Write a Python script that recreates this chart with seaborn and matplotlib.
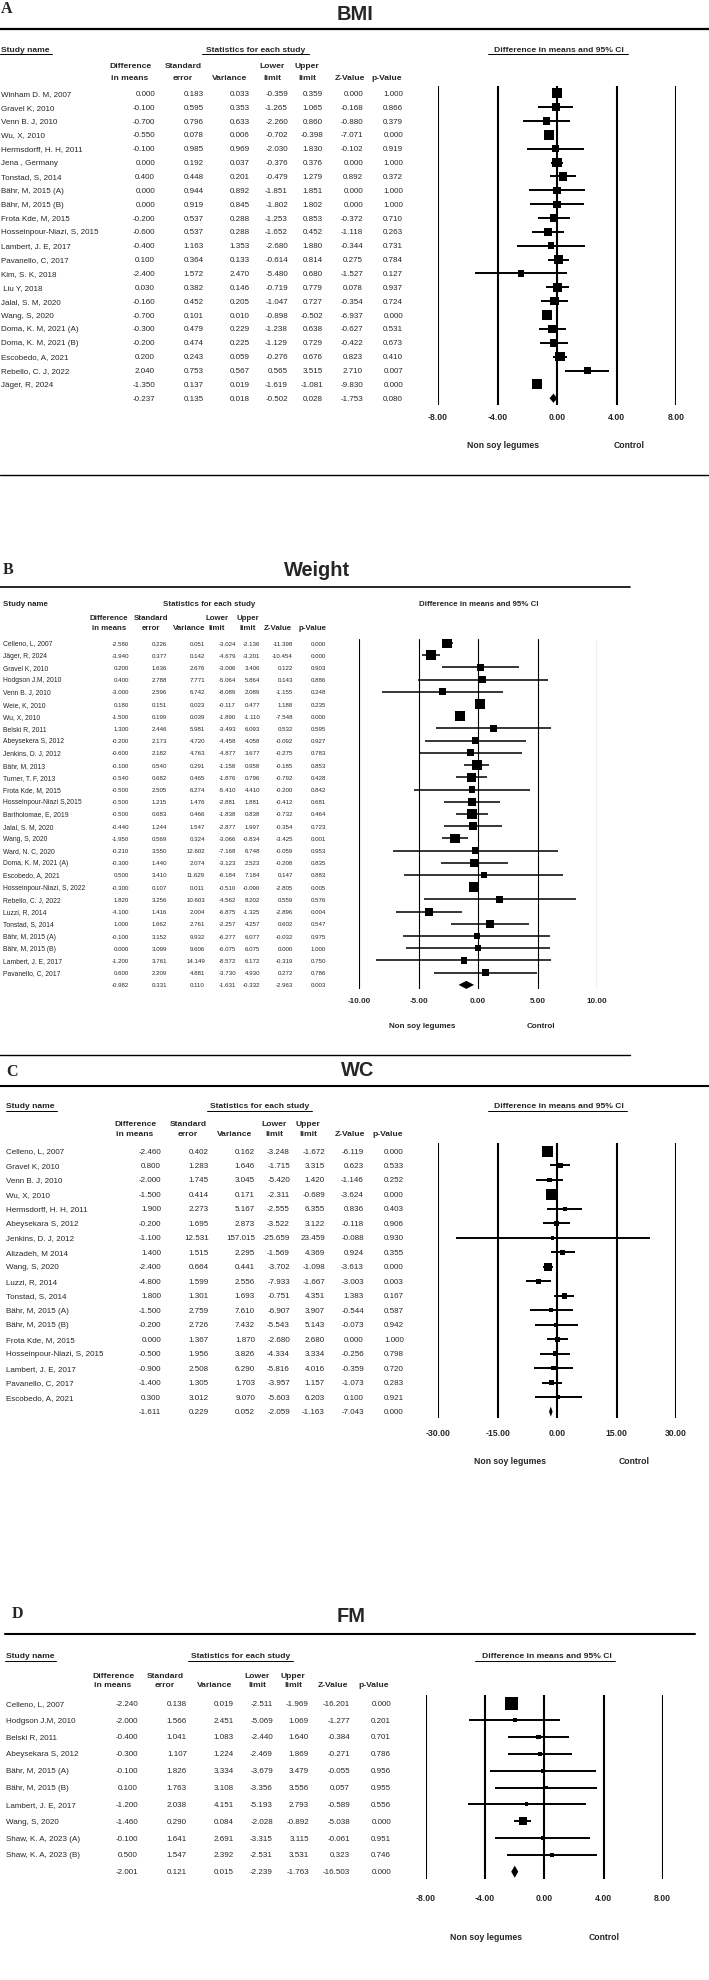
import numpy as np
import pandas as pd
import matplotlib
matplotlib.use("Agg")
import matplotlib.pyplot as plt
import matplotlib.transforms as mtrans
import seaborn as sns

# ---------------- DATA ----------------
# Panel A : BMI
bmi_studies = ["Winham D. M, 2007", "Gravel K, 2010", "Venn B. J, 2010", "Wu, X, 2010",
               "Hermsdorff, H. H, 2011", "Jena , Germany", "Tonstad, S, 2014", "Bähr, M, 2015 (A)",
               "Bähr, M, 2015 (B)", "Frota Kde, M, 2015", "Hosseinpour-Niazi, S, 2015",
               "Lambert, J. E, 2017", "Pavanello, C, 2017", "Kim, S. K, 2018", " Liu Y, 2018",
               "Jalal, S. M, 2020", "Wang, S, 2020", "Doma, K. M, 2021 (A)", "Doma, K. M, 2021 (B)",
               "Escobedo, A, 2021", "Rebello, C. J, 2022", "Jäger, R, 2024"]
bmi_diff = [0.000, -0.100, -0.700, -0.550, -0.100, 0.000, 0.400, 0.000, 0.000, -0.200, -0.600,
            -0.400, 0.100, -2.400, 0.030, -0.160, -0.700, -0.300, -0.200, 0.200, 2.040, -1.350]
bmi_se = [0.183, 0.595, 0.796, 0.078, 0.985, 0.192, 0.448, 0.944, 0.919, 0.537, 0.537,
          1.163, 0.364, 1.572, 0.382, 0.452, 0.101, 0.479, 0.474, 0.243, 0.753, 0.137]
bmi_var = [0.033, 0.353, 0.633, 0.006, 0.969, 0.037, 0.201, 0.892, 0.845, 0.288, 0.288,
           1.353, 0.133, 2.470, 0.146, 0.205, 0.010, 0.229, 0.225, 0.059, 0.567, 0.019]
bmi_lower = [-0.359, -1.265, -2.260, -0.702, -2.030, -0.376, -0.479, -1.851, -1.802, -1.253, -1.652,
             -2.680, -0.614, -5.480, -0.719, -1.047, -0.898, -1.238, -1.129, -0.276, 0.565, -1.619]
bmi_upper = [0.359, 1.065, 0.860, -0.398, 1.830, 0.376, 1.279, 1.851, 1.802, 0.853, 0.452,
             1.880, 0.814, 0.680, 0.779, 0.727, -0.502, 0.638, 0.729, 0.676, 3.515, -1.081]
bmi_z = [0.000, -0.168, -0.880, -7.071, -0.102, 0.000, 0.892, 0.000, 0.000, -0.372, -1.118,
         -0.344, 0.275, -1.527, 0.078, -0.354, -6.937, -0.627, -0.422, 0.823, 2.710, -9.830]
bmi_p = [1.000, 0.866, 0.379, 0.000, 0.919, 1.000, 0.372, 1.000, 1.000, 0.710, 0.263,
         0.731, 0.784, 0.127, 0.937, 0.724, 0.000, 0.531, 0.673, 0.410, 0.007, 0.000]
bmi_pooled = [-0.237, 0.135, 0.018, -0.502, 0.028, -1.753, 0.080]

# Panel B : Weight
wt_studies = ["Celleno, L, 2007", "Jäger, R, 2024", "Gravel K, 2010", "Hodgson J.M, 2010",
              "Venn B. J, 2010", "Weie, K, 2010", "Wu, X, 2010", "Belski R, 2011",
              "Abeysekera S, 2012", "Jenkins, D. J, 2012", "Bähr, M, 2013", "Turner, T. F, 2013",
              "Frota Kde, M, 2015", "Hosseinpour-Niazi S,2015", "Bartholomae, E, 2019",
              "Jalal, S. M, 2020", "Wang, S, 2020", "Ward, N. C, 2020", "Doma, K. M, 2021 (A)",
              "Escobedo, A, 2021", "Hosseinpour-Niazi, S, 2022", "Rebello, C. J, 2022",
              "Luzzi, R, 2014", "Tonstad, S, 2014", "Bähr, M, 2015 (A)", "Bähr, M, 2015 (B)",
              "Lambert, J. E, 2017", "Pavanello, C, 2017"]
wt_diff = [-2.580, -3.940, 0.200, 0.400, -3.000, 0.180, -1.500, 1.300, -0.200, -0.600, -0.100,
           -0.540, -0.500, -0.500, -0.500, -0.440, -1.950, -0.210, -0.300, 0.500, -0.300, 1.820,
           -4.100, 1.000, -0.100, 0.000, -1.200, 0.600]
wt_se = [0.226, 0.377, 1.636, 2.788, 2.596, 0.151, 0.199, 2.446, 2.173, 2.182, 0.540,
         0.682, 2.505, 1.215, 0.683, 1.244, 0.569, 3.550, 1.440, 3.410, 0.107, 3.256,
         1.416, 1.662, 3.152, 3.099, 3.761, 2.209]
wt_var = [0.051, 0.142, 2.676, 7.771, 6.742, 0.023, 0.039, 5.981, 4.720, 4.763, 0.291,
          0.465, 6.274, 1.476, 0.466, 1.547, 0.324, 12.602, 2.074, 11.629, 0.011, 10.603,
          2.004, 2.761, 9.932, 9.606, 14.149, 4.881]
wt_lower = [-3.024, -4.679, -3.006, -5.064, -8.089, -0.117, -1.890, -3.493, -4.458, -4.877, -1.158,
            -1.876, -5.410, -2.881, -1.838, -2.877, -3.066, -7.168, -3.123, -6.184, -0.510, -4.562,
            -6.875, -2.257, -6.277, -6.075, -8.572, -3.730]
wt_upper = [-2.136, -3.201, 3.406, 5.864, 2.089, 0.477, -1.110, 6.093, 4.058, 3.677, 0.958,
            0.796, 4.410, 1.881, 0.838, 1.997, -0.834, 6.748, 2.523, 7.184, -0.090, 8.202,
            -1.325, 4.257, 6.077, 6.075, 6.172, 4.930]
wt_z = [-11.398, -10.454, 0.122, 0.143, -1.155, 1.188, -7.548, 0.532, -0.092, -0.275, -0.185,
        -0.792, -0.200, -0.412, -0.732, -0.354, -3.425, -0.059, -0.208, 0.147, -2.805, 0.559,
        -2.896, 0.602, -0.032, 0.000, -0.319, 0.272]
wt_p = [0.000, 0.000, 0.903, 0.886, 0.248, 0.235, 0.000, 0.595, 0.927, 0.783, 0.853,
        0.428, 0.842, 0.681, 0.464, 0.723, 0.001, 0.953, 0.835, 0.883, 0.005, 0.576,
        0.004, 0.547, 0.975, 1.000, 0.750, 0.786]
wt_pooled = [-0.982, 0.331, 0.110, -1.631, -0.332, -2.963, 0.003]

# Panel C : WC
wc_studies = ["Celleno, L, 2007", "Gravel K, 2010", "Venn B. J, 2010", "Wu, X, 2010",
              "Hermsdorff, H. H, 2011", "Abeysekara S, 2012", "Jenkins, D. J, 2012",
              "Alizadeh, M 2014", "Wang, S, 2020", "Luzzi, R, 2014", "Tonstad, S, 2014",
              "Bähr, M, 2015 (A)", "Bähr, M, 2015 (B)", "Frota Kde, M, 2015",
              "Hosseinpour-Niazi, S, 2015", "Lambert, J. E, 2017", "Pavanello, C, 2017",
              "Escobedo, A, 2021"]
wc_diff = [-2.460, 0.800, -2.000, -1.500, 1.900, -0.200, -1.100, 1.400, -2.400, -4.800, 1.800,
           -1.500, -0.200, 0.000, -0.500, -0.900, -1.400, 0.300]
wc_se = [0.402, 1.283, 1.745, 0.414, 2.273, 1.695, 12.531, 1.515, 0.664, 1.599, 1.301,
         2.759, 2.726, 1.367, 1.956, 2.508, 1.305, 3.012]
wc_var = [0.162, 1.646, 3.045, 0.171, 5.167, 2.873, 157.015, 2.295, 0.441, 2.556, 1.693,
          7.610, 7.432, 1.870, 3.826, 6.290, 1.703, 9.070]
wc_lower = [-3.248, -1.715, -5.420, -2.311, -2.555, -3.522, -25.659, -1.569, -3.702, -7.933, -0.751,
            -6.907, -5.543, -2.680, -4.334, -5.816, -3.957, -5.603]
wc_upper = [-1.672, 3.315, 1.420, -0.689, 6.355, 3.122, 23.459, 4.369, -1.098, -1.667, 4.351,
            3.907, 5.143, 2.680, 3.334, 4.016, 1.157, 6.203]
wc_z = [-6.119, 0.623, -1.146, -3.624, 0.836, -0.118, -0.088, 0.924, -3.613, -3.003, 1.383,
        -0.544, -0.073, 0.000, -0.256, -0.359, -1.073, 0.100]
wc_p = [0.000, 0.533, 0.252, 0.000, 0.403, 0.906, 0.930, 0.355, 0.000, 0.003, 0.167,
        0.587, 0.942, 1.000, 0.798, 0.720, 0.283, 0.921]
wc_pooled = [-1.611, 0.229, 0.052, -2.059, -1.163, -7.043, 0.000]

# Panel D : FM
fm_studies = ["Celleno, L, 2007", "Hodgson J.M, 2010", "Belski R, 2011", "Abeysekara S, 2012",
              "Bähr, M, 2015 (A)", "Bähr, M, 2015 (B)", "Lambert, J. E, 2017", "Wang, S, 2020",
              "Shaw, K. A, 2023 (A)", "Shaw, K. A, 2023 (B)"]
fm_diff = [-2.240, -2.000, -0.400, -0.300, -0.100, 0.100, -1.200, -1.460, -0.100, 0.500]
fm_se = [0.138, 1.566, 1.041, 1.107, 1.826, 1.763, 2.038, 0.290, 1.641, 1.547]
fm_var = [0.019, 2.451, 1.083, 1.224, 3.334, 3.108, 4.151, 0.084, 2.691, 2.392]
fm_lower = [-2.511, -5.069, -2.440, -2.469, -3.679, -3.356, -5.193, -2.028, -3.315, -2.531]
fm_upper = [-1.969, 1.069, 1.640, 1.869, 3.479, 3.556, 2.793, -0.892, 3.115, 3.531]
fm_z = [-16.201, -1.277, -0.384, -0.271, -0.055, 0.057, -0.589, -5.038, -0.061, 0.323]
fm_p = [0.000, 0.201, 0.701, 0.786, 0.956, 0.955, 0.556, 0.000, 0.951, 0.746]
fm_pooled = [-2.001, 0.121, 0.015, -2.239, -1.763, -16.503, 0.000]

header_line1 = ["Difference", "Standard", "", "Lower", "Upper", "", ""]
header_line2 = ["in means", "error", "Variance", "limit", "limit", "Z-Value", "p-Value"]
left_label = "Non soy legumes"
right_label = "Control"

# ---------------- STYLE / LAYOUT ----------------
W, H = 709, 1981
sns.set_style("white")
plt.rcParams["font.family"] = ["Liberation Sans", "DejaVu Sans"]
SERIF = ["Liberation Serif", "DejaVu Serif"]

fig = plt.figure(figsize=(W / 100, H / 100), dpi=100)


def fx(x):
    return x / W


def fy(y):
    return 1 - y / H


def hline(x0, x1, y, lw):
    fig.add_artist(plt.Line2D([fx(x0), fx(x1)], [fy(y), fy(y)],
                              transform=fig.transFigure, color="black", lw=lw))


def weights(v, pooled_var):
    v = np.asarray(v, dtype=float)
    target = 1.0 / pooled_var
    if (1.0 / v).sum() <= target:
        return 1.0 / v
    lo, hi = 0.0, 1e4
    for _ in range(200):
        mid = 0.5 * (lo + hi)
        if (1.0 / (v + mid)).sum() > target:
            lo = mid
        else:
            hi = mid
    return 1.0 / (v + lo)


def panel(cfg, names, diff, se, var, lower, upper, z, p, pooled):
    # titles / rules
    fig.text(fx(cfg["letter_xy"][0]), fy(cfg["letter_xy"][1]), cfg["letter"], ha="left", va="center",
             fontsize=11.5, fontweight="bold", family=SERIF)
    fig.text(fx(cfg["title_xy"][0]), fy(cfg["title_xy"][1]), cfg["title"], ha="center", va="center",
             fontsize=14.4, fontweight="bold")
    for (x0, x1, y, lw) in cfg["rules"]:
        hline(x0, x1, y, lw)

    hs = cfg["head_fs"]
    sy = cfg["sec_y"]
    fig.text(fx(cfg["name_x"]), fy(sy), "Study name", ha="left", va="center", fontsize=hs, fontweight="bold")
    fig.text(fx(cfg["stats_x"]), fy(sy), "Statistics for each study", ha="center", va="center",
             fontsize=hs, fontweight="bold")
    fig.text(fx(cfg["ci_x"]), fy(sy), "Difference in means and 95% CI", ha="center", va="center",
             fontsize=hs, fontweight="bold")
    for (x0, x1) in cfg.get("underlines", []):
        hline(x0, x1, cfg["ul_y"], 0.7)
    for cx, l1, l2 in zip(cfg["col_center"], header_line1, header_line2):
        if l1:
            fig.text(fx(cx), fy(cfg["hdr_y"][0]), l1, ha="center", va="center", fontsize=hs, fontweight="bold")
        fig.text(fx(cx), fy(cfg["hdr_y"][1]), l2, ha="center", va="center", fontsize=hs, fontweight="bold")

    # forest axes
    x0, x1 = cfg["ax_x"]
    ytop, ybot = cfg["ax_y"]
    ax = fig.add_axes([fx(x0), fy(ybot), (x1 - x0) / W, (ybot - ytop) / H])
    r0, st = cfg["row0"], cfg["step"]
    ax.set_facecolor("none")
    for s in ax.spines.values():
        s.set_visible(False)
    ax.set_xticks([])
    ax.set_yticks([])

    n = len(names)
    rows = np.arange(n)
    ax.hlines(rows, lower, upper, color="black", lw=cfg["ci_lw"], zorder=2)
    w = weights(var, pooled[2])
    smin, smax = cfg["sq"]
    side_px = smin + (smax - smin) * np.sqrt(w / w.max())
    area = (side_px * 0.72) ** 2
    df = pd.DataFrame({"x": diff, "y": rows, "area": area})
    sns.scatterplot(data=df, x="x", y="y", size="area", sizes=(area.min(), area.max()),
                    size_norm=(area.min(), area.max()), marker="s", color="black",
                    linewidth=0, legend=False, ax=ax, zorder=3)
    pr = n
    hh = cfg["dia_h"]
    ax.fill([pooled[3], pooled[0], pooled[4], pooled[0]], [pr, pr - hh, pr, pr + hh],
            color="black", lw=0, zorder=3)
    for t in cfg["ticks"]:
        ax.axvline(t, color="black", lw=cfg["v_lw"], zorder=1)
    ax.set_xlim(cfg["ticks"][0], cfg["ticks"][-1])
    ax.set_ylim((ybot - r0) / st, (ytop - r0) / st)
    ax.set_xlabel("")
    ax.set_ylabel("")

    # tick labels and side labels (x through the axis scale)
    bt = mtrans.blended_transform_factory(ax.transData, fig.transFigure)
    for t in cfg["ticks"]:
        ax.text(t, fy(cfg["tick_y"]), f"{t:.2f}", transform=bt, ha="center", va="center",
                fontsize=cfg["tick_fs"], fontweight="bold", clip_on=False)
    fig.text(fx(cfg["leg_x"][0]), fy(cfg["leg_y"]), left_label, ha="center", va="center",
             fontsize=cfg["tick_fs"], fontweight="bold")
    fig.text(fx(cfg["leg_x"][1]), fy(cfg["leg_y"]), right_label, ha="center", va="center",
             fontsize=cfg["tick_fs"], fontweight="bold")

    # table text
    tt = mtrans.blended_transform_factory(fig.transFigure, ax.transData)
    cols = [diff, se, var, lower, upper, z, p]
    for i in range(n):
        ax.text(fx(cfg["name_x"]), i, names[i], transform=tt, ha="left", va="center",
                fontsize=cfg["name_fs"], clip_on=False)
        for cx, col in zip(cfg["col_right"], cols):
            ax.text(fx(cx), i, f"{col[i]:.3f}", transform=tt, ha="right", va="center",
                    fontsize=cfg["num_fs"], clip_on=False)
    for cx, val in zip(cfg["col_right"], pooled):
        ax.text(fx(cx), n, f"{val:.3f}", transform=tt, ha="right", va="center",
                fontsize=cfg["num_fs"], clip_on=False)


cfgA = dict(letter="A", letter_xy=(1, 9), title="BMI", title_xy=(355, 14),
            rules=[(0, 709, 30, 1.6)], sec_y=50, name_x=1, stats_x=256, ci_x=559,
            underlines=[(0, 52), (202, 309), (488, 628)], ul_y=55,
            hdr_y=(67, 78), col_right=[155, 204, 250, 288, 323, 363, 403],
            col_center=[130, 183, 230, 272, 307, 350, 387],
            ax_x=(438, 676), ax_y=(87, 406), row0=94.3, step=13.86,
            ticks=[-8, -4, 0, 4, 8], tick_y=418, leg_y=445, leg_x=(503, 629),
            name_fs=5.8, num_fs=5.8, head_fs=6.1, tick_fs=6.2,
            ci_lw=1.4, v_lw=1.5, sq=(5, 10), dia_h=0.33)

cfgB = dict(letter="B", letter_xy=(3, 570), title="Weight", title_xy=(317, 570),
            rules=[(0, 709, 476, 1.0), (0, 630, 588, 1.2), (0, 630, 1056, 1.0)],
            sec_y=604, name_x=3, stats_x=209.5, ci_x=479,
            hdr_y=(619, 629), col_right=[129, 167, 205, 236, 260, 293, 326],
            col_center=[109, 151, 189, 217, 248, 278, 313],
            ax_x=(359, 597), ax_y=(640, 990), row0=644, step=12.21,
            ticks=[-10, -5, 0, 5, 10], tick_y=1002, leg_y=1027, leg_x=(422, 541),
            name_fs=4.9, num_fs=4.4, head_fs=5.7, tick_fs=5.8,
            ci_lw=1.1, v_lw=0.8, sq=(4.5, 10), dia_h=0.33)

cfgC = dict(letter="C", letter_xy=(6, 1072), title="WC", title_xy=(358, 1070),
            rules=[(0, 709, 1087, 1.5)], sec_y=1107, name_x=6, stats_x=259.5, ci_x=559,
            underlines=[(6, 57), (207, 312), (488, 627)], ul_y=1112,
            hdr_y=(1124, 1135), col_right=[161, 209, 255, 290, 325, 364, 404],
            col_center=[135, 188, 235, 274, 308, 350, 388],
            ax_x=(438.4, 676), ax_y=(1144, 1419), row0=1152, step=14.48,
            ticks=[-30, -15, 0, 15, 30], tick_y=1434, leg_y=1462, leg_x=(510, 634),
            name_fs=5.8, num_fs=5.8, head_fs=6.1, tick_fs=6.2,
            ci_lw=1.4, v_lw=1.5, sq=(3, 11), dia_h=0.35)

cfgD = dict(letter="D", letter_xy=(12, 1614.5), title="FM", title_xy=(351, 1617),
            rules=[(5, 695, 1635, 1.5)], sec_y=1657, name_x=6, stats_x=241, ci_x=547,
            underlines=[(5, 56), (188, 293), (475, 615)], ul_y=1662,
            hdr_y=(1676, 1686), col_right=[138, 187, 234, 273, 309, 350, 391],
            col_center=[113, 165, 215, 257, 293, 333, 374],
            ax_x=(426, 662.7), ax_y=(1696, 1880), row0=1704.3, step=16.84,
            ticks=[-8, -4, 0, 4, 8], tick_y=1899, leg_y=1938, leg_x=(486, 604),
            name_fs=5.8, num_fs=5.8, head_fs=6.1, tick_fs=6.2,
            ci_lw=1.4, v_lw=1.5, sq=(3, 13), dia_h=0.36)

panel(cfgA, bmi_studies, bmi_diff, bmi_se, bmi_var, bmi_lower, bmi_upper, bmi_z, bmi_p, bmi_pooled)
panel(cfgB, wt_studies, wt_diff, wt_se, wt_var, wt_lower, wt_upper, wt_z, wt_p, wt_pooled)
panel(cfgC, wc_studies, wc_diff, wc_se, wc_var, wc_lower, wc_upper, wc_z, wc_p, wc_pooled)
panel(cfgD, fm_studies, fm_diff, fm_se, fm_var, fm_lower, fm_upper, fm_z, fm_p, fm_pooled)

fig.savefig("out.png", dpi=100, facecolor="white")
